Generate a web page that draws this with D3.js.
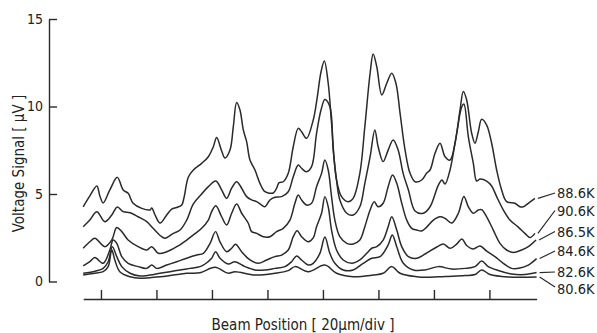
<!DOCTYPE html>
<html>
<head>
<meta charset="utf-8">
<script src="https://cdn.jsdelivr.net/npm/d3@7"></script>
<style>
  body { margin: 0; background: #fff; }
  svg { display: block; }
  text { font-family: "DejaVu Sans Condensed", "DejaVu Sans", sans-serif; fill: #222; }
</style>
</head>
<body>
<div id="chart"></div>
<script>
// beam position in µm, signal in µV
const temperatures = ["88.6K", "90.6K", "86.5K", "84.6K", "82.6K", "80.6K"];
const yTicks = [0, 5, 10, 15];
const xTicks = [20, 40, 60, 80, 100, 120, 140, 160];

const trace886 = [[13.6,4.27],[16.0,4.89],[18.5,5.46],[19.6,4.89],[20.8,4.49],[23.2,5.23],[25.9,5.95],[28.0,5.23],[29.8,5.04],[31.6,4.47],[34.7,4.18],[37.7,4.09],[38.3,4.20],[39.5,3.80],[41.3,3.34],[43.7,3.80],[45.5,4.14],[47.3,4.23],[49.1,4.37],[49.9,4.77],[51.5,5.97],[53.3,6.37],[56.3,6.75],[58.7,7.13],[60.5,7.70],[61.7,8.23],[63.5,7.46],[64.7,7.06],[66.5,7.51],[67.7,8.85],[68.9,10.23],[70.1,9.80],[71.3,8.66],[72.5,7.99],[73.7,6.94],[75.5,6.37],[77.3,5.61],[79.1,5.13],[82.1,5.06],[83.3,5.33],[84.2,5.65],[85.7,5.70],[87.5,6.18],[89.3,7.70],[91.1,8.75],[92.3,8.56],[94.1,8.18],[96.5,9.23],[97.8,10.37],[99.3,11.97],[100.5,12.60],[101.9,11.33],[103.1,9.04],[104.9,5.80],[106.7,4.85],[109.1,4.56],[110.9,4.75],[113.3,6.18],[115.1,8.85],[117.0,11.90],[118.1,13.0],[119.4,12.27],[121.2,10.66],[123.0,11.33],[124.8,11.90],[126.3,11.33],[127.8,9.61],[129.6,7.51],[131.4,6.18],[133.2,5.70],[135.6,5.80],[137.4,6.20],[138.6,6.37],[140.4,7.33],[142.2,7.90],[144.0,7.13],[145.8,6.94],[147.6,7.90],[149.4,9.80],[150.6,10.86],[151.8,10.37],[153.6,8.47],[154.8,7.90],[156.0,8.56],[157.2,9.27],[159.0,8.94],[160.8,7.90],[162.6,6.37],[164.4,5.23],[166.2,4.56],[169.2,4.47],[171.0,4.27],[172.2,4.27],[174.0,4.47],[176.4,4.75]];

const trace906 = [[13.6,3.13],[16.0,3.51],[18.5,3.99],[21.4,3.42],[23.9,3.80],[25.9,4.26],[28.0,3.99],[30.5,3.93],[33.4,3.70],[36.5,3.42],[38.8,3.04],[41.9,2.56],[43.1,2.47],[46.1,2.75],[48.5,2.94],[50.9,3.51],[53.3,4.43],[56.3,5.0],[58.7,5.42],[61.4,5.74],[63.5,5.23],[65.3,4.75],[67.1,5.33],[68.9,5.70],[70.7,5.33],[72.5,4.85],[74.3,4.66],[76.1,4.56],[77.9,4.37],[79.1,4.27],[80.9,4.66],[82.7,4.81],[85.1,4.85],[87.5,5.13],[89.3,5.99],[91.1,6.66],[92.3,6.47],[94.1,6.27],[95.9,6.56],[97.7,8.47],[99.3,9.80],[100.7,10.40],[102.5,9.99],[103.7,7.51],[104.9,5.80],[106.1,4.66],[108.6,3.90],[110.9,3.80],[113.3,4.27],[115.1,5.61],[117.0,7.13],[118.7,8.66],[119.9,7.70],[121.7,6.85],[123.5,7.51],[125.3,8.09],[127.1,7.51],[128.9,6.18],[130.8,5.23],[133.2,4.03],[136.2,3.90],[138.6,4.27],[141.6,5.51],[142.9,5.80],[144.0,5.57],[145.8,6.37],[148.2,8.47],[150.0,9.97],[150.8,10.14],[152.4,8.27],[154.2,6.75],[155.4,5.74],[156.6,5.86],[159.0,5.74],[160.8,5.46],[162.6,4.85],[165.0,4.09],[167.4,3.51],[170.4,3.11],[172.8,2.75],[174.6,2.51],[176.4,2.75]];

const trace865 = [[13.6,1.90],[16.0,2.27],[17.8,2.47],[21.4,1.99],[23.9,2.37],[25.7,3.09],[27.5,2.85],[29.8,2.37],[33.4,1.99],[36.5,1.80],[38.3,1.99],[40.7,1.61],[43.7,1.70],[47.3,1.99],[50.9,2.37],[53.3,2.66],[56.3,3.04],[58.7,3.51],[59.9,3.99],[61.4,4.33],[63.5,3.70],[65.3,3.23],[67.1,3.90],[68.9,4.43],[70.7,3.90],[73.1,3.33],[74.3,2.85],[76.1,2.75],[78.5,2.56],[80.9,2.56],[83.3,2.85],[85.7,3.04],[88.1,3.51],[89.9,4.47],[91.1,4.94],[92.3,4.66],[94.1,4.37],[95.9,4.47],[97.7,5.42],[99.5,6.18],[100.7,6.94],[101.9,6.37],[103.1,4.85],[104.3,3.51],[106.1,2.56],[108.6,2.18],[110.9,2.14],[113.3,2.37],[115.1,3.13],[117.0,4.09],[118.5,4.56],[119.9,4.27],[121.7,4.47],[123.5,5.42],[125.1,6.09],[126.6,5.61],[128.4,4.47],[130.2,3.51],[132.0,3.04],[133.8,2.94],[135.6,2.89],[137.4,3.11],[139.8,3.51],[142.2,3.70],[144.0,3.61],[146.4,3.34],[148.8,3.90],[150.8,4.86],[152.4,4.27],[154.2,3.90],[156.0,4.09],[157.2,4.11],[159.0,3.69],[161.4,2.94],[163.8,2.18],[166.2,1.80],[168.6,1.66],[171.6,1.80],[174.0,1.99],[176.8,2.37]];

const trace846 = [[13.6,0.89],[16.0,1.13],[17.8,1.37],[20.8,1.04],[23.2,1.80],[24.4,2.37],[25.7,2.18],[27.5,1.42],[29.8,1.04],[33.4,0.85],[36.5,0.75],[38.3,0.94],[40.1,0.75],[43.7,0.94],[47.3,1.13],[50.9,1.33],[54.5,1.51],[56.9,1.61],[59.3,2.18],[61.3,2.85],[62.9,2.27],[65.3,1.70],[67.1,1.90],[68.5,2.13],[70.7,1.70],[73.7,1.23],[76.7,1.04],[79.7,1.23],[82.7,1.42],[85.1,1.51],[87.5,1.80],[89.3,2.56],[90.7,2.90],[92.3,2.56],[94.7,2.27],[96.5,2.49],[97.7,3.13],[99.5,3.90],[100.7,4.85],[101.9,4.27],[103.1,2.94],[104.9,1.80],[107.3,1.23],[110.4,1.04],[113.3,1.23],[115.8,1.61],[117.6,1.90],[119.4,1.99],[121.7,2.37],[123.5,3.13],[124.8,3.70],[126.6,2.94],[128.4,1.99],[130.8,1.42],[133.8,1.33],[136.8,1.57],[141.0,1.97],[143.4,2.14],[145.8,1.90],[148.2,2.14],[150.1,2.43],[151.8,2.06],[154.2,1.86],[156.6,2.03],[159.0,1.74],[162.0,1.42],[165.0,1.04],[168.0,0.75],[171.0,0.77],[174.0,0.94],[177.0,1.31]];

const trace826 = [[13.6,0.47],[17.2,0.56],[20.8,0.75],[22.6,1.13],[24.1,1.99],[25.7,1.42],[27.5,0.85],[30.5,0.47],[34.1,0.31],[37.7,0.37],[41.3,0.47],[44.9,0.56],[48.5,0.66],[52.1,0.75],[55.7,0.85],[57.5,1.00],[59.9,1.33],[61.3,1.70],[62.9,1.33],[65.9,1.00],[68.3,1.13],[71.9,0.85],[75.5,0.66],[79.1,0.66],[82.7,0.75],[86.3,0.85],[88.7,1.13],[90.5,1.46],[92.3,1.23],[94.7,0.94],[96.5,1.04],[98.9,1.61],[100.7,2.54],[102.5,1.61],[104.3,1.04],[107.3,0.66],[110.9,0.66],[114.5,1.04],[117.6,1.33],[120.6,1.42],[123.5,2.09],[125.0,2.66],[126.6,1.99],[128.9,1.06],[132.6,0.66],[136.8,0.66],[141.6,0.85],[146.4,0.71],[151.2,0.75],[154.8,0.85],[157.2,1.17],[159.6,0.85],[163.2,0.63],[168.0,0.43],[172.8,0.40],[177.0,0.51]];

const trace806 = [[13.6,0.37],[17.2,0.46],[20.8,0.56],[22.6,0.85],[23.9,1.80],[25.0,1.23],[26.8,0.56],[30.5,0.27],[34.1,0.18],[37.7,0.22],[41.3,0.27],[46.1,0.37],[50.9,0.47],[55.7,0.50],[61.1,0.81],[65.9,0.47],[68.3,0.56],[75.5,0.37],[82.7,0.47],[87.5,0.62],[89.9,0.85],[94.7,0.56],[100.7,0.94],[104.9,0.47],[110.9,0.27],[118.1,0.37],[121.7,0.47],[124.8,0.85],[127.8,0.47],[133.8,0.27],[137.4,0.24],[144.0,0.29],[151.2,0.34],[154.8,0.40],[157.2,0.66],[160.2,0.40],[166.8,0.26],[177.0,0.26]];

const traces = [trace886, trace906, trace865, trace846, trace826, trace806];

const width = 597, height = 333;
const ink = "#2a2a2a";
const font = "'DejaVu Sans Condensed','DejaVu Sans',sans-serif";

const svg = d3.select("#chart").append("svg")
  .attr("width", width)
  .attr("height", height)
  .attr("viewBox", [0, 0, width, height].toString());

svg.append("rect").attr("width", width).attr("height", height).attr("fill", "#fff");

const x = d3.scaleLinear().domain([13.6, 177]).range([83.2, 536.6]);
const y = d3.scaleLinear().domain([0, 15]).range([281.5, 19]);

// y axis, ticks pointing inward
const yAxis = svg.append("g")
  .attr("transform", "translate(49,0)")
  .call(d3.axisLeft(y).tickValues(yTicks).tickSizeInner(-8).tickSizeOuter(0).tickPadding(6));
yAxis.selectAll("text").attr("font-size", 14).attr("fill", ink).style("font-family", font);

// x axis (no numbers), ticks pointing up
svg.append("g")
  .attr("transform", "translate(0,299)")
  .call(d3.axisBottom(x).tickValues(xTicks).tickSizeInner(-9).tickSizeOuter(0).tickFormat(""));

svg.selectAll(".domain, .tick line").attr("stroke", ink).attr("stroke-width", 1.4);

// traces
const line = d3.line()
  .x(d => x(d[0]))
  .y(d => y(d[1]))
  .curve(d3.curveCatmullRom.alpha(0.5));

svg.append("g")
  .selectAll("path")
  .data(traces)
  .join("path")
  .attr("fill", "none")
  .attr("stroke", ink)
  .attr("stroke-width", 1.5)
  .attr("stroke-linejoin", "round")
  .attr("d", line);

// temperature labels with leader lines
const labelY = [193, 210.5, 231.5, 251, 272, 289]; // label centres, px
const labels = svg.append("g");
traces.forEach((t, i) => {
  const last = t[t.length - 1];
  labels.append("line")
    .attr("x1", x(last[0]) + 3).attr("y1", y(last[1]))
    .attr("x2", 555).attr("y2", labelY[i] + (i === 5 ? -2 : 0))
    .attr("stroke", ink).attr("stroke-width", 1.2);
  labels.append("text")
    .attr("x", 557).attr("y", labelY[i] + 5)
    .attr("font-size", 14.5)
    .text(temperatures[i]);
});

// axis titles
svg.append("text")
  .attr("transform", "translate(24,163.5) rotate(-90)")
  .attr("text-anchor", "middle")
  .attr("font-size", 15)
  .text("Voltage Signal [ µV ]");

svg.append("text")
  .attr("x", 303).attr("y", 330)
  .attr("text-anchor", "middle")
  .attr("font-size", 15)
  .text("Beam Position [ 20µm/div ]");
</script>
</body>
</html>
